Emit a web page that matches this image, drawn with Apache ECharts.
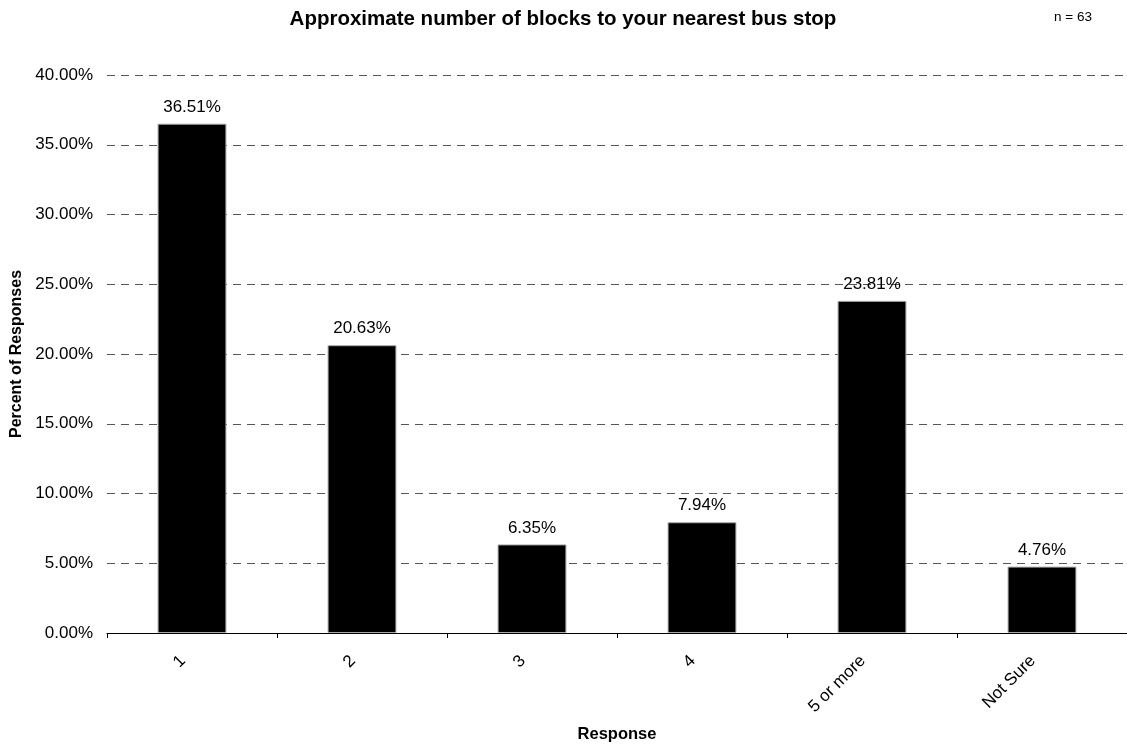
<!DOCTYPE html>
<html>
<head>
<meta charset="utf-8">
<script src="https://cdn.jsdelivr.net/npm/echarts@6/dist/echarts.min.js"></script>
<style>
  html, body { margin: 0; padding: 0; background: #fff; }
  #chart { width: 1127px; height: 750px; }
</style>
</head>
<body>
<div id="chart"></div>
<script>
// data
const categories = ["1", "2", "3", "4", "5 or more", "Not Sure"];
const percents = [36.51, 20.63, 6.35, 7.94, 23.81, 4.76];
const yTicks = { min: 0, max: 40, interval: 5 };

const FONT = "Liberation Sans, Arial, sans-serif";

const chart = echarts.init(document.getElementById("chart"));

chart.setOption({
  animation: false,
  backgroundColor: "#fff",
  title: [{
    text: "Approximate number of blocks to your nearest bus stop",
    left: 558,
    textAlign: "center",
    top: 4,
    textStyle: { fontFamily: FONT, fontSize: 20.5, fontWeight: "bold", color: "#000" },
  }, {
    text: "n = 63",
    left: 1049,
    top: 5,
    textStyle: { fontFamily: FONT, fontSize: 13.5, fontWeight: "normal", color: "#000" },
  }],
  grid: { left: 107, right: 0, top: 75, bottom: 117, outerBoundsMode: "none", containLabel: false },
  xAxis: {
    type: "category",
    data: categories,
    name: "Response",
    nameLocation: "middle",
    nameGap: 93,
    nameTextStyle: { fontFamily: FONT, fontSize: 16.5, fontWeight: "bold", color: "#000" },
    axisLine: { lineStyle: { color: "#000", width: 1 } },
    axisTick: { show: true, length: 5, lineStyle: { color: "#000" } },
    axisLabel: {
      rotate: 45,
      margin: 16,
      padding: [0, 13, 0, 0],
      fontFamily: FONT,
      fontSize: 17,
      color: "#000",
    },
  },
  yAxis: {
    type: "value",
    min: yTicks.min,
    max: yTicks.max,
    interval: yTicks.interval,
    name: "Percent of Responses",
    nameLocation: "middle",
    nameGap: 77,
    nameTextStyle: { fontFamily: FONT, fontSize: 16, fontWeight: "bold", color: "#000" },
    axisLine: { show: false },
    axisTick: { show: false },
    axisLabel: {
      margin: 14,
      fontFamily: FONT,
      fontSize: 17,
      color: "#000",
      formatter: v => v.toFixed(2) + "%",
    },
    splitLine: { lineStyle: { color: "#555", type: [8, 6], width: 1 } },
  },
  series: [{
    type: "bar",
    data: percents,
    barWidth: "40.5%",
    itemStyle: { color: "#000", borderColor: "#aaa", borderWidth: 1 },
    label: {
      show: true,
      position: "top",
      distance: 8,
      fontFamily: FONT,
      fontSize: 17,
      color: "#000",
      formatter: p => p.value.toFixed(2) + "%",
    },
  }],
});
</script>
</body>
</html>
